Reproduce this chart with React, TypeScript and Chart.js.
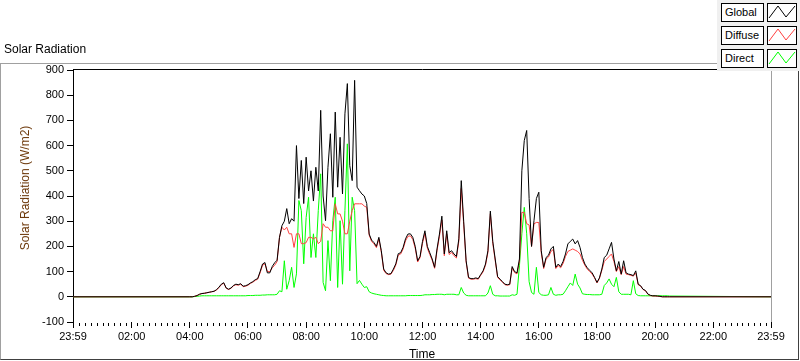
import React, { useEffect, useRef } from "react";
import { Chart, registerables } from "chart.js";

Chart.register(...registerables);

const FONT = '"Liberation Sans", Arial, sans-serif';

// sampling of the daytime record (minutes after midnight)
const DAY_START_MIN = 240;
const STEP_MIN = 5;
const AXIS_MIN = -1;
const AXIS_MAX = 1439;

// W/m2, one row per hour starting 04:00, 5-minute steps
const globalRadiation = [
  0, 0, 2, 5, 10, 13, 14, 16, 18, 20, 22, 28,
  38, 50, 56, 35, 30, 35, 45, 50, 48, 52, 42, 44,
  48, 55, 60, 68, 72, 100, 130, 136, 95, 95, 120, 135,
  145, 236, 282, 300, 350, 290, 310, 300, 600, 390, 541, 370,
  554, 420, 500, 380, 514, 420, 740, 400, 302, 514, 647, 395,
  733, 435, 633, 408, 726, 846, 520, 461, 859, 435, 421, 408,
  400, 370, 249, 225, 215, 200, 236, 183, 110, 95, 90, 92,
  110, 131, 171, 175, 196, 230, 249, 250, 236, 200, 143, 160,
  220, 262, 200, 175, 150, 117, 190, 249, 320, 170, 262, 175,
  183, 170, 160, 230, 461, 300, 143, 77, 72, 72, 75, 72,
  88, 103, 130, 183, 340, 220, 150, 80, 70, 60, 50, 48,
  50, 120, 100, 95, 150, 500, 620, 660, 390, 200, 302, 390,
  415, 183, 117, 156, 165, 190, 200, 117, 130, 120, 140, 170,
  210, 220, 229, 210, 223, 196, 156, 130, 115, 105, 95, 77,
  57, 75, 110, 156, 165, 190, 216, 150, 103, 140, 90, 143,
  95, 90, 88, 84, 103, 50, 44, 30, 25, 11, 6, 4,
  4, 3, 2, 0, 0, 0, 0,
];

const diffuseRadiation = [
  0, 0, 2, 5, 10, 13, 14, 16, 18, 20, 22, 27,
  36, 48, 54, 34, 29, 34, 43, 48, 46, 50, 40, 42,
  46, 53, 58, 65, 70, 95, 125, 131, 100, 100, 115, 125,
  140, 236, 276, 265, 276, 250, 250, 196, 250, 250, 211, 211,
  215, 236, 236, 230, 236, 211, 220, 290, 276, 276, 262, 262,
  369, 329, 329, 300, 250, 250, 300, 342, 369, 369, 369, 369,
  360, 355, 245, 220, 210, 195, 230, 178, 105, 92, 88, 90,
  105, 126, 165, 170, 190, 222, 240, 242, 228, 193, 138, 155,
  212, 252, 193, 168, 145, 113, 183, 240, 305, 163, 250, 168,
  176, 163, 154, 220, 430, 288, 138, 74, 70, 70, 72, 70,
  85, 99, 125, 176, 330, 212, 144, 77, 67, 58, 48, 46,
  48, 115, 96, 91, 140, 335, 335, 290, 285, 200, 290, 295,
  295, 175, 112, 150, 158, 180, 188, 112, 124, 115, 132, 160,
  180, 185, 190, 185, 180, 170, 145, 125, 110, 100, 90, 75,
  55, 72, 105, 140, 150, 160, 170, 140, 100, 120, 88, 120,
  90, 88, 85, 82, 95, 48, 42, 29, 24, 10, 5, 3,
  3, 2, 1, 0, 0, 0, 0,
];

const directRadiation = [
  0, 0, 1, 2, 3, 4, 4, 4, 4, 4, 4, 4,
  4, 4, 4, 4, 4, 4, 4, 4, 4, 4, 4, 4,
  5, 5, 5, 6, 6, 6, 7, 7, 8, 8, 8, 8,
  10, 24, 20, 143, 30, 64, 117, 37, 91, 382, 342, 131,
  315, 395, 156, 250, 156, 342, 488, 57, 24, 223, 64, 302,
  395, 37, 302, 50, 342, 607, 103, 395, 342, 52, 65, 50,
  37, 40, 20, 15, 12, 10, 8, 6, 5, 4, 4, 4,
  4, 4, 4, 4, 4, 4, 5, 5, 5, 5, 5, 5,
  6, 8, 8, 8, 9, 9, 10, 10, 10, 8, 10, 10,
  10, 10, 8, 8, 37, 15, 6, 4, 4, 4, 4, 4,
  4, 4, 4, 15, 44, 10, 4, 4, 3, 3, 3, 3,
  3, 8, 6, 10, 123, 250, 355, 250, 60, 17, 10, 117,
  17, 8, 6, 6, 8, 37, 10, 6, 8, 8, 10, 24,
  40, 55, 45, 90, 50, 35, 12, 10, 9, 9, 8, 8,
  8, 8, 10, 45, 55, 71, 50, 40, 77, 20, 10, 10,
  10, 10, 8, 64, 12, 5, 4, 4, 4, 4, 4, 4,
  4, 4, 4, 4, 4, 4, 3,
];

const seriesNames = ["Global", "Diffuse", "Direct"];
const seriesColors = ["#000000", "#ff4040", "#00ff00"];

const yMin = -100;
const yMax = 900;
const yStep = 100;

const xMajorTickValues = [-1, 120, 240, 360, 480, 600, 720, 840, 960, 1080, 1200, 1320, 1439];
const xMajorTickLabels = [
  "23:59", "02:00", "04:00", "06:00", "08:00", "10:00", "12:00",
  "14:00", "16:00", "18:00", "20:00", "22:00", "23:59",
];
const xMinorStepMin = 12;

function toPoints(values: number[]) {
  const pts: { x: number; y: number }[] = [{ x: AXIS_MIN, y: 0 }];
  values.forEach((v, i) => pts.push({ x: DAY_START_MIN + i * STEP_MIN, y: v }));
  pts.push({ x: AXIS_MAX, y: 0 });
  return pts;
}

const framePlugin = {
  id: "lvFrame",
  afterDraw(chart: any) {
    const { ctx, chartArea: a, scales } = chart;
    const xs = scales.x;
    ctx.save();
    ctx.lineWidth = 1;
    ctx.strokeStyle = "#000";
    ctx.beginPath();
    ctx.moveTo(a.left, Math.round(a.top) - 0.5);
    ctx.lineTo(a.right + 1, Math.round(a.top) - 0.5);
    ctx.stroke();
    ctx.strokeStyle = "#a0a0a0";
    ctx.beginPath();
    ctx.moveTo(Math.round(a.right) + 0.5, a.top - 2);
    ctx.lineTo(Math.round(a.right) + 0.5, a.bottom);
    ctx.stroke();
    ctx.strokeStyle = "#000";
    ctx.beginPath();
    for (let t = xMinorStepMin; t < AXIS_MAX; t += xMinorStepMin) {
      if (t % 120 === 0) continue;
      const px = Math.round(xs.getPixelForValue(t)) + 0.5;
      ctx.moveTo(px, a.bottom + 1);
      ctx.lineTo(px, a.bottom + 4);
    }
    ctx.stroke();
    ctx.restore();
  },
};

function ZigZag({ color }: { color: string }) {
  return (
    <svg width="28" height="17" style={{ display: "block" }}>
      <polyline points="1,14 10,2 18,13 27,2" fill="none" stroke={color} strokeWidth="1" />
    </svg>
  );
}

export default function App() {
  const canvasRef = useRef<HTMLCanvasElement | null>(null);

  useEffect(() => {
    const canvas = canvasRef.current;
    if (!canvas) return;
    const series = [globalRadiation, diffuseRadiation, directRadiation];
    const chart = new Chart(canvas, {
      type: "line",
      data: {
        datasets: series.map((vals, i) => ({
          label: seriesNames[i],
          data: toPoints(vals),
          borderColor: seriesColors[i],
          backgroundColor: seriesColors[i],
          borderWidth: 1,
          pointRadius: 0,
          tension: 0,
          fill: false,
        })),
      },
      options: {
        animation: false,
        responsive: false,
        devicePixelRatio: 1,
        events: [],
        layout: { padding: { left: 0, right: 29, top: 70, bottom: 0 } },
        plugins: {
          legend: { display: false },
          tooltip: { enabled: false },
          title: { display: false },
        },
        scales: {
          x: {
            type: "linear",
            min: AXIS_MIN,
            max: AXIS_MAX,
            afterFit: (s: any) => {
              s.height = 39;
            },
            afterBuildTicks: (s: any) => {
              s.ticks = xMajorTickValues.map((v) => ({ value: v }));
            },
            ticks: {
              autoSkip: false,
              maxRotation: 0,
              minRotation: 0,
              padding: 2,
              color: "#000",
              font: { family: FONT, size: 11 },
              callback: (_v: any, idx: number) => xMajorTickLabels[idx],
            },
            grid: {
              display: true,
              drawOnChartArea: false,
              drawTicks: true,
              tickLength: 6,
              color: "#000",
            },
            border: { display: false },
          },
          y: {
            type: "linear",
            min: yMin,
            max: yMax,
            afterFit: (s: any) => {
              s.width = 73;
            },
            ticks: {
              stepSize: yStep,
              color: "#000",
              padding: 3,
              font: { family: FONT, size: 11 },
            },
            grid: {
              display: true,
              drawOnChartArea: false,
              drawTicks: true,
              tickLength: 6,
              color: "#000",
            },
            border: { display: true, color: "#000", width: 1 },
          },
        },
      },
      plugins: [framePlugin],
    } as any);
    return () => chart.destroy();
  }, []);

  const boxBase: React.CSSProperties = {
    position: "absolute",
    height: 17,
    border: "1px solid #000",
    background: "#ffffff",
    boxSizing: "content-box",
  };

  return (
    <div
      style={{
        position: "fixed",
        left: 0,
        top: 0,
        width: 800,
        height: 361,
        background: "#ffffff",
        fontFamily: FONT,
        overflow: "hidden",
      }}
    >
      <div
        style={{
          position: "absolute",
          left: 0,
          top: 63,
          width: 797,
          height: 295,
          borderTop: "1px solid #a0a0a0",
          borderLeft: "1px solid #a0a0a0",
          borderRight: "1px solid #404040",
          borderBottom: "1px solid #404040",
        }}
      />
      <canvas
        ref={canvasRef}
        width={800}
        height={361}
        style={{ position: "absolute", left: 0, top: 0, width: 800, height: 361 }}
      />
      <div
        style={{
          position: "absolute",
          left: 4,
          top: 42,
          fontSize: 12,
          lineHeight: "14px",
          color: "#000",
          whiteSpace: "nowrap",
        }}
      >
        Solar Radiation
      </div>
      <div
        style={{
          position: "absolute",
          left: 25 - 100,
          top: 188 - 7,
          width: 200,
          height: 14,
          lineHeight: "14px",
          fontSize: 12,
          textAlign: "center",
          color: "#6e3a0c",
          transform: "rotate(-90deg)",
          transformOrigin: "50% 50%",
          whiteSpace: "nowrap",
        }}
      >
        Solar Radiation (W/m2)
      </div>
      <div
        style={{
          position: "absolute",
          left: 322,
          top: 347,
          width: 200,
          lineHeight: "14px",
          fontSize: 12,
          textAlign: "center",
          color: "#000",
        }}
      >
        Time
      </div>
      <div
        style={{
          position: "absolute",
          left: 717,
          top: 0,
          width: 83,
          height: 71,
          background: "#f0f0f0",
        }}
      >
        {seriesNames.map((name, i) => (
          <React.Fragment key={name}>
            <div
              style={{
                ...boxBase,
                left: 4,
                top: 3 + i * 23,
                width: 41,
                fontSize: 11,
                lineHeight: "17px",
                paddingLeft: 0,
                color: "#000",
              }}
            >
              <span style={{ marginLeft: 3 }}>{name}</span>
            </div>
            <div style={{ ...boxBase, left: 50, top: 3 + i * 23, width: 28 }}>
              <ZigZag color={seriesColors[i]} />
            </div>
          </React.Fragment>
        ))}
      </div>
    </div>
  );
}
